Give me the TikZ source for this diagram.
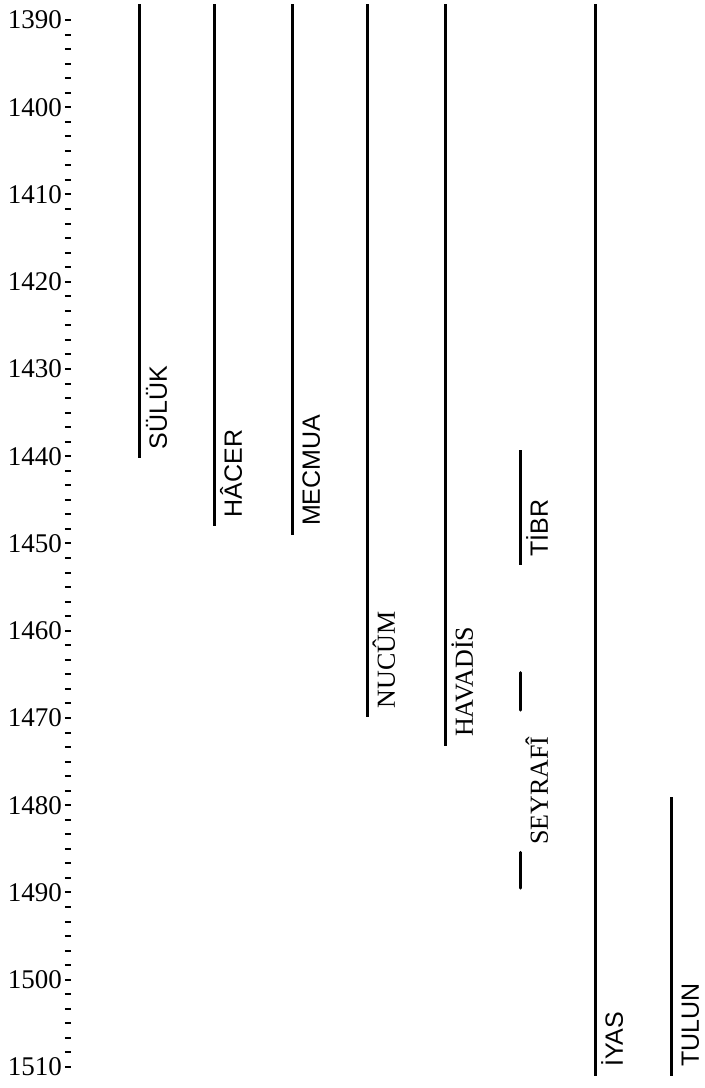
\documentclass[tikz,border=0pt]{standalone}
\usepackage{fontspec}
\setmainfont{Liberation Serif}
\setsansfont{Liberation Sans}
\usepackage{tikz}
\usetikzlibrary{positioning}
\tikzset{
  lifeline/.style={draw=black,line width=3pt},
  namesf/.style={rotate=90,anchor=base west,inner sep=0pt,font=\fontsize{25}{30}\sffamily},
  namerm/.style={rotate=90,anchor=base west,inner sep=0pt,font=\fontsize{26}{30}\rmfamily},
  yearlbl/.style={anchor=east,inner sep=0pt,font=\fontsize{27}{30}\rmfamily},
  tickmark/.style={draw=black,line width=2pt}
}

\begin{document}
\begin{tikzpicture}[x=1pt,y=-8.725pt]
  \useasboundingbox (0,-2.292) rectangle (705,122.41);
  % x, from, to, node name, label style, label
  \def\reign#1#2#3#4#5#6{\draw[lifeline] (#1,#2-1390) -- (#1,#3-1390); \node[#5] (#4) at (#1+27,#3-1391) {#6};}
  % year axis
  \foreach \yr in {1390,1400,...,1510}{\node[yearlbl] (y\yr) at (62,\yr-1390) {\yr};}
  \foreach \k in {0,...,72}{\draw[tickmark] (65,{\k*10/6}) -- (71,{\k*10/6});}
  \reign{140}{1388.2}{1440.2}{suluk}{namesf}{SÜLÜK}
  \reign{215}{1388.2}{1448.0}{hacer}{namesf}{HÂCER}
  \reign{293}{1388.2}{1449.0}{mecmua}{namesf}{MECMUA}
  \reign{368}{1388.2}{1469.9}{nucum}{namerm}{NUCÛM}
  \reign{446}{1388.2}{1473.2}{havadis}{namerm}{HAVADİS}
  \reign{521}{1439.3}{1452.5}{tibr}{namesf}{TİBR}
  \reign{596}{1388.2}{1511.0}{iyas}{namesf}{İYAS}
  \reign{672}{1479.1}{1511.0}{tulun}{namesf}{TULUN}
  % seyrafi, two short pieces
  \draw[lifeline,line cap=round] (521,1464.8-1390) -- (521,1469.1-1390);
  \draw[lifeline,line cap=round] (521,1485.4-1390) -- (521,1489.5-1390);
  \node[namerm] (seyrafi) at (548,1484.55-1390) {SEYRAFÎ};
\end{tikzpicture}
\end{document}
